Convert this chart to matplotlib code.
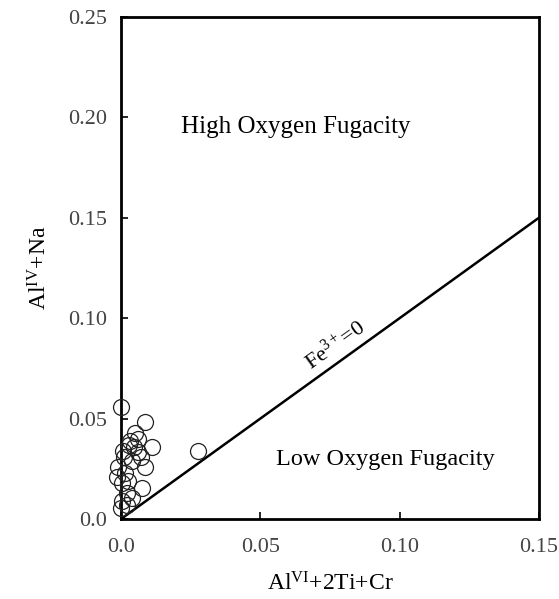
import matplotlib
matplotlib.use("Agg")
import matplotlib.pyplot as plt

plt.rcParams['font.family'] = ['Liberation Serif', 'DejaVu Serif']
plt.rcParams['mathtext.fontset'] = 'custom'
plt.rcParams['mathtext.rm'] = 'Liberation Serif'
plt.rcParams['mathtext.it'] = 'Liberation Serif:italic'

# Data
x_vals = [0.000, 0.0086, 0.005, 0.011, 0.0277, 0.0032, 0.0008, 0.0062, 0.0086, -0.001,
          -0.0015, 0.0074, 0.002, 0.0005, 0.000, 0.0038, 0.003, 0.001, 0.006, 0.004,
          0.0015, 0.0025, 0.007, 0.0005, 0.002, 0.0045]
y_vals = [0.056, 0.0485, 0.043, 0.0357, 0.0339, 0.039, 0.034, 0.0335, 0.026, 0.026,
          0.021, 0.0153, 0.0128, 0.0178, 0.0053, 0.0103, 0.037, 0.031, 0.040, 0.029,
          0.023, 0.019, 0.031, 0.009, 0.007, 0.036]
line_x = [0.0, 0.15]
line_y = [0.0, 0.15]
xticks = [0.0, 0.05, 0.10, 0.15]
xticklabels = ['0.0', '0.05', '0.10', '0.15']
yticks = [0.0, 0.05, 0.10, 0.15, 0.20, 0.25]
yticklabels = ['0.0', '0.05', '0.10', '0.15', '0.20', '0.25']

fig = plt.figure(figsize=(5.59, 5.99), dpi=100)
ax = fig.add_axes([0.2165, 0.1336, 0.964 - 0.2165, 0.9716 - 0.1336])

ax.plot(line_x, line_y, color='black', lw=1.8, zorder=2)
ax.plot(x_vals, y_vals, linestyle='none', marker='o', markersize=11.5,
        markerfacecolor='none', markeredgecolor='#222222', markeredgewidth=0.9,
        clip_on=False, zorder=3)

ax.set_xlim(0, 0.15)
ax.set_ylim(0, 0.25)
ax.set_xticks(xticks)
ax.set_xticklabels(xticklabels)
ax.set_yticks(yticks)
ax.set_yticklabels(yticklabels)
ax.tick_params(direction='in', length=5, width=1.2, labelsize=16,
               labelcolor='#444444')
ax.tick_params(axis='x', pad=14)
ax.tick_params(axis='y', pad=10)
for s in ax.spines.values():
    s.set_linewidth(2.0)

ax.set_xlabel(r'Al$^{\mathrm{VI}}$+2Ti+Cr', fontsize=17, labelpad=11)
ax.set_ylabel(r'Al$^{\mathrm{IV}}$+Na', fontsize=17, labelpad=12)

ax.text(0.0628, 0.195, 'High Oxygen Fugacity', fontsize=18, ha='center', va='center')
ax.text(0.095, 0.0294, 'Low Oxygen Fugacity', fontsize=17.5, ha='center', va='center')
ax.text(0.0768, 0.0867, r'Fe$^{3+}$=0', fontsize=16, ha='center', va='center',
        rotation=35.6)

fig.savefig('out.png', dpi=100)
